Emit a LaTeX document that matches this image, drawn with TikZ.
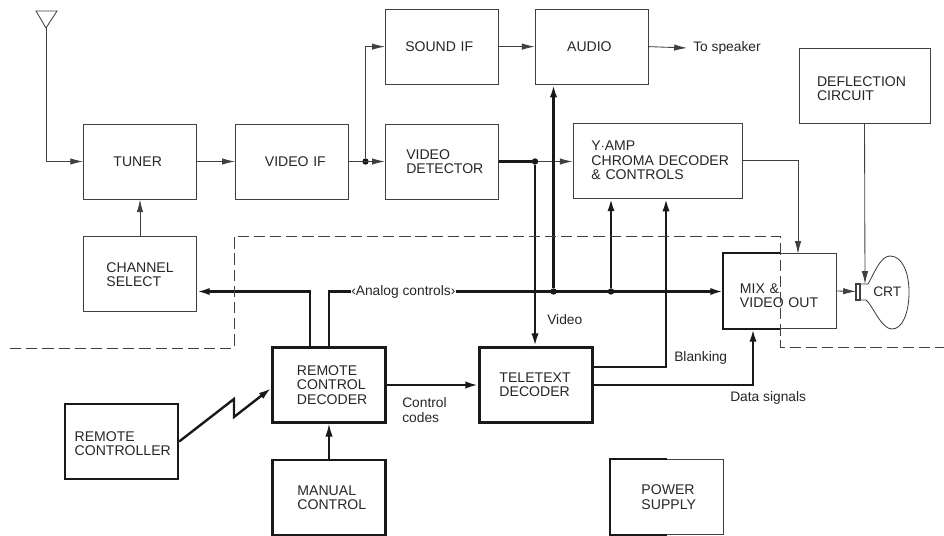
\documentclass[tikz,border=0pt]{standalone}
\usepackage{fontspec}
\setmainfont[WordSpace=2]{Liberation Sans}
\newfontfamily\captionfont{Liberation Sans}
\usepackage{xcolor}
\usetikzlibrary{arrows.meta, positioning}

\begin{document}
\begin{tikzpicture}[
        x=0.025cm, y=-0.025cm,
        font=\fontsize{10}{10.2}\selectfont,
        text=black!85,
        blockbox/.style={
            draw=black!75,
            line width=0.6pt,
            minimum height=1.875cm,
            inner ysep=0pt,
            inner xsep=#1*0.025cm,
            text width=2.825cm-2*#1*0.025cm,
            align=left
        },
        heavybox/.style={blockbox=#1, draw=black!90, line width=1.7pt},
        thinline/.style={draw=black!75, line width=0.6pt},
        heavyline/.style={draw=black!90, line width=1.7pt},
        thinarrow/.style={thinline, -{Latex[length=3.2mm, width=1.6mm]}},
        heavyarrow/.style={heavyline, -{Latex[length=3.2mm, width=1.8mm]}},
        junction/.style={circle, fill=black!90, inner sep=0pt, minimum size=1.6mm},
        caption/.style={inner sep=0pt, anchor=west, align=left, font=\captionfont\fontsize{9.8}{11}\selectfont}
    ]
        \useasboundingbox (0,0) rectangle (944,536);

        % receiver chain
        \node[blockbox=30] (tuner) at (140,161.5) {TUNER};
        \node[blockbox=29.5, right=0.95cm of tuner] (videoif) {VIDEO~IF};
        \node[blockbox=21, right=0.9cm of videoif] (detector) {VIDEO\\DETECTOR};
        \node[blockbox=20, above=0.975cm of detector] (soundif) {SOUND~IF};
        \node[blockbox=32, right=0.9cm of soundif] (audio) {AUDIO};
        \node[blockbox=18.5, text width=3.3cm] (chroma) at (657.5,160.5) {Y$\cdot$AMP\\\mbox{CHROMA~DECODER}\\\&~CONTROLS};
        \node[blockbox=18, text width=2.375cm] (deflection) at (864.5,85.5) {\rule{0pt}{11.5pt}DEFLECTION\\CIRCUIT};
        \node[blockbox=23, below=0.925cm of tuner] (channel) {CHANNEL\\SELECT};
        \node[blockbox=16.5] (mix) at (780,291) {\rule{0pt}{13.6pt}MIX~\&\\\mbox{VIDEO~OUT}};

        % teletext and remote control part
        \node[heavybox=24.5] (remote) at (329,385) {REMOTE\\CONTROL\\DECODER};
        \node[heavybox=20] (teletext) at (536,385) {TELETEXT\\DECODER};
        \node[heavybox=9.7] (controller) at (121.5,441.5) {\rule{0pt}{10pt}REMOTE\\CONTROLLER};
        \node[heavybox=25] (manual) at (329,497.5) {MANUAL\\CONTROL};
        \node[blockbox=31] (power) at (667,497) {POWER\\SUPPLY};

        \node[caption] (speaker) at (693,48) {To speaker};
        \node[caption] (analog) at (351,291.5) {‹Analog controls›};
        \node[caption] (codes) at (402,410) {Control\\codes};
        \node[caption] (video) at (547,320) {Video};
        \node[caption] (blanking) at (674,358) {Blanking};
        \node[caption] (datasignals) at (730,398) {Data signals};
        \node[caption] (crtlabel) at (873,292) {CRT};

        \node[junction] (iftap) at (365.5,161.5) {};
        \node[junction] (videotap) at (535,161.5) {};
        \node[junction] (audiotap) at (553.5,291.5) {};
        \node[junction] (chromatap) at (611,291.5) {};

        \coordinate (aerial) at (46,28);
        \coordinate (blankin) at (666,198.5);
        \coordinate (neckin) at (856,291.5);
        \coordinate (necktop) at (865,284);

        % aerial and tube
        \draw[thinline] (36,11) -- (57,11) -- (aerial) -- cycle;
        \draw[thinline, line width=0.9pt] (856,284) rectangle (860,300);
        \draw[thinline] (860,284) -- (868,284)
            .. controls (873,276) and (880,256) .. (890,256)
            .. controls (902,256) and (909,272) .. (909,292)
            .. controls (909,314) and (902,329) .. (892,329)
            .. controls (882,329) and (874,309) .. (868,302)
            -- (866,300) -- (860,300);

        % thin signal lines
        \draw[thinarrow] (aerial) |- (tuner.west);
        \draw[thinarrow] (tuner) -- (videoif);
        \draw[thinarrow] (videoif) -- (detector);
        \draw[thinarrow] (iftap) |- (soundif.west);
        \draw[thinarrow] (soundif) -- (audio);
        \draw[thinarrow] (audio.east) -- ([xshift=-0.15cm]speaker.west);
        \draw[thinarrow] (channel) -- (tuner);
        \draw[thinarrow] (videotap) -- (videotap -| chroma.west);
        \draw[thinarrow] (chroma.east) -| (798,254);
        \draw[thinarrow] (deflection.south) -- (necktop);
        \draw[thinarrow] (mix.east) -- (neckin);

        % heavy signal lines
        \draw[heavyline] (detector.east) -- (videotap);
        \draw[heavyarrow] (videotap) -- (videotap |- teletext.north);
        \draw[heavyarrow] (audiotap) -- (audiotap |- audio.south);
        \draw[heavyarrow] (chromatap) -- (chromatap |- chroma.south);
        \draw[heavyarrow] ([xshift=-0.475cm]remote.north) |- (analog -| channel.east);
        \draw[heavyline] (remote.north) |- (analog.west);
        \draw[heavyarrow] (analog.east) -- (analog -| mix.west);
        \draw[heavyarrow] (remote.east) -- (teletext.west);
        \draw[heavyarrow] ([yshift=0.45cm]teletext.east) -| (blankin);
        \draw[heavyarrow] (teletext.east) -| ([xshift=-0.675cm]mix.south);
        \draw[heavyarrow, line width=0.9pt] (manual) -- (remote);
        \draw[heavyarrow] (controller.east) -- (234,399) -- (234,417) -- ([yshift=-0.075cm]remote.west);

        % left half of the mix box and of the supply box
        \draw[heavyline] (mix.north) -- (mix.north west) -- (mix.south west) -- (mix.south);
        \draw[heavyline] (power.north) -- (power.north west) -- (power.south west) -- (power.south);

        % boundary
        \draw[thinline, line width=0.7pt, dash pattern=on 8pt off 3.5pt] (10,348) -- (234,348) -- (234,236) -- (780,236) -- (780,347) -- (944,347);
    \end{tikzpicture}
\end{document}
